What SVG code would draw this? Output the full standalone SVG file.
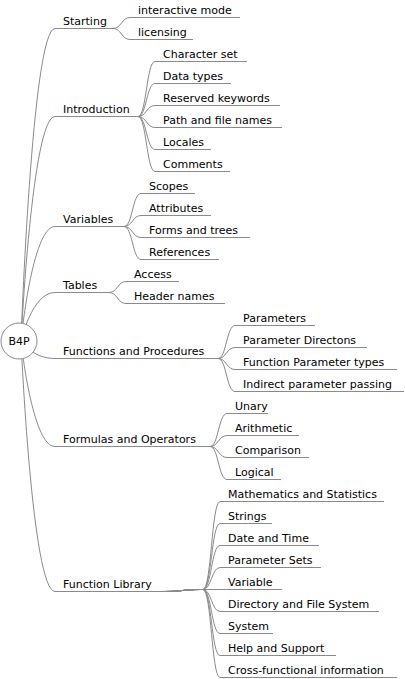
<svg xmlns="http://www.w3.org/2000/svg" width="405" height="679" viewBox="0 0 405 679">
<style>
.t{font-family:"DejaVu Sans","Liberation Sans",sans-serif;font-size:11px;fill:#000}
.ln{stroke:#8a8a8a;stroke-width:1;fill:none}
.root{fill:#fff;stroke:#8a8a8a;stroke-width:1}
</style>
<rect width="405" height="679" fill="#fff"/>
<g id="connectors" class="ln">
<path d="M21,341 C21,341 32,28.5 55,28.5"/>
<path d="M21,341 C21,341 32,116.5 55,116.5"/>
<path d="M21,341 C21,341 32,226.5 55,226.5"/>
<path d="M21,341 C21,341 32,292.5 55,292.5"/>
<path d="M21,341 C21,341 32,358.5 55,358.5"/>
<path d="M21,341 C21,341 32,446.5 55,446.5"/>
<path d="M21,341 C21,341 32,591.5 55,591.5"/>
<path d="M113,28.5 C121.5,28.5 121.5,17.5 130,17.5"/>
<path d="M113,28.5 C121.5,28.5 121.5,39.5 130,39.5"/>
<path d="M138,116.5 C146.5,116.5 146.5,61.5 155,61.5"/>
<path d="M138,116.5 C146.5,116.5 146.5,83.5 155,83.5"/>
<path d="M138,116.5 C146.5,116.5 146.5,105.5 155,105.5"/>
<path d="M138,116.5 C146.5,116.5 146.5,127.5 155,127.5"/>
<path d="M138,116.5 C146.5,116.5 146.5,149.5 155,149.5"/>
<path d="M138,116.5 C146.5,116.5 146.5,171.5 155,171.5"/>
<path d="M124,226.5 C132.5,226.5 132.5,193.5 141,193.5"/>
<path d="M124,226.5 C132.5,226.5 132.5,215.5 141,215.5"/>
<path d="M124,226.5 C132.5,226.5 132.5,237.5 141,237.5"/>
<path d="M124,226.5 C132.5,226.5 132.5,259.5 141,259.5"/>
<path d="M109,292.5 C117.5,292.5 117.5,281.5 126,281.5"/>
<path d="M109,292.5 C117.5,292.5 117.5,303.5 126,303.5"/>
<path d="M218,358.5 C226.5,358.5 226.5,325.5 235,325.5"/>
<path d="M218,358.5 C226.5,358.5 226.5,347.5 235,347.5"/>
<path d="M218,358.5 C226.5,358.5 226.5,369.5 235,369.5"/>
<path d="M218,358.5 C226.5,358.5 226.5,391.5 235,391.5"/>
<path d="M210,446.5 C218.5,446.5 218.5,413.5 227,413.5"/>
<path d="M210,446.5 C218.5,446.5 218.5,435.5 227,435.5"/>
<path d="M210,446.5 C218.5,446.5 218.5,457.5 227,457.5"/>
<path d="M210,446.5 C218.5,446.5 218.5,479.5 227,479.5"/>
<path d="M162,591.5 C184,591.5 181,589.5 203,589.5 C211.5,589.5 211.5,501.5 220,501.5"/>
<path d="M162,591.5 C184,591.5 181,589.5 203,589.5 C211.5,589.5 211.5,523.5 220,523.5"/>
<path d="M162,591.5 C184,591.5 181,589.5 203,589.5 C211.5,589.5 211.5,545.5 220,545.5"/>
<path d="M162,591.5 C184,591.5 181,589.5 203,589.5 C211.5,589.5 211.5,567.5 220,567.5"/>
<path d="M162,591.5 C184,591.5 181,589.5 203,589.5 L220,589.5"/>
<path d="M162,591.5 C184,591.5 181,589.5 203,589.5 C211.5,589.5 211.5,611.5 220,611.5"/>
<path d="M162,591.5 C184,591.5 181,589.5 203,589.5 C211.5,589.5 211.5,633.5 220,633.5"/>
<path d="M162,591.5 C184,591.5 181,589.5 203,589.5 C211.5,589.5 211.5,655.5 220,655.5"/>
<path d="M162,591.5 C184,591.5 181,589.5 203,589.5 C211.5,589.5 211.5,677.5 220,677.5"/>
</g>
<g id="root"><circle class="root" cx="19" cy="341" r="18"/><text class="t" x="19" y="345" text-anchor="middle">B4P</text></g>
<g id="starting"><path class="ln" d="M55,28.5 H113"/><text class="t" x="63" y="24.5">Starting</text></g>
<g id="introduction"><path class="ln" d="M55,116.5 H138"/><text class="t" x="63" y="112.5">Introduction</text></g>
<g id="variables"><path class="ln" d="M55,226.5 H124"/><text class="t" x="63" y="222.5">Variables</text></g>
<g id="tables"><path class="ln" d="M55,292.5 H109"/><text class="t" x="63" y="288.5">Tables</text></g>
<g id="functions"><path class="ln" d="M55,358.5 H218"/><text class="t" x="63" y="354.5">Functions and Procedures</text></g>
<g id="formulas"><path class="ln" d="M55,446.5 H210"/><text class="t" x="63" y="442.5">Formulas and Operators</text></g>
<g id="library"><path class="ln" d="M55,591.5 H162"/><text class="t" x="63" y="587.5">Function Library</text></g>
<g id="interactive"><path class="ln" d="M130,17.5 H240"/><text class="t" x="138" y="13.5">interactive mode</text></g>
<g id="licensing"><path class="ln" d="M130,39.5 H193"/><text class="t" x="138" y="35.5">licensing</text></g>
<g id="charset"><path class="ln" d="M155,61.5 H247"/><text class="t" x="163" y="57.5">Character set</text></g>
<g id="datatypes"><path class="ln" d="M155,83.5 H231"/><text class="t" x="163" y="79.5">Data types</text></g>
<g id="reserved"><path class="ln" d="M155,105.5 H280"/><text class="t" x="163" y="101.5">Reserved keywords</text></g>
<g id="path"><path class="ln" d="M155,127.5 H282"/><text class="t" x="163" y="123.5">Path and file names</text></g>
<g id="locales"><path class="ln" d="M155,149.5 H211"/><text class="t" x="163" y="145.5">Locales</text></g>
<g id="comments"><path class="ln" d="M155,171.5 H230"/><text class="t" x="163" y="167.5">Comments</text></g>
<g id="scopes"><path class="ln" d="M141,193.5 H195"/><text class="t" x="149" y="189.5">Scopes</text></g>
<g id="attributes"><path class="ln" d="M141,215.5 H211"/><text class="t" x="149" y="211.5">Attributes</text></g>
<g id="forms"><path class="ln" d="M141,237.5 H250"/><text class="t" x="149" y="233.5">Forms and trees</text></g>
<g id="references"><path class="ln" d="M141,259.5 H219"/><text class="t" x="149" y="255.5">References</text></g>
<g id="access"><path class="ln" d="M126,281.5 H179"/><text class="t" x="134" y="277.5">Access</text></g>
<g id="header"><path class="ln" d="M126,303.5 H225"/><text class="t" x="134" y="299.5">Header names</text></g>
<g id="parameters"><path class="ln" d="M235,325.5 H315"/><text class="t" x="243" y="321.5">Parameters</text></g>
<g id="directions"><path class="ln" d="M235,347.5 H367"/><text class="t" x="243" y="343.5">Parameter Directons</text></g>
<g id="fptypes"><path class="ln" d="M235,369.5 H397"/><text class="t" x="243" y="365.5">Function Parameter types</text></g>
<g id="indirect"><path class="ln" d="M235,391.5 H404"/><text class="t" x="243" y="387.5">Indirect parameter passing</text></g>
<g id="unary"><path class="ln" d="M227,413.5 H268"/><text class="t" x="235" y="409.5">Unary</text></g>
<g id="arithmetic"><path class="ln" d="M227,435.5 H299"/><text class="t" x="235" y="431.5">Arithmetic</text></g>
<g id="comparison"><path class="ln" d="M227,457.5 H309"/><text class="t" x="235" y="453.5">Comparison</text></g>
<g id="logical"><path class="ln" d="M227,479.5 H281"/><text class="t" x="235" y="475.5">Logical</text></g>
<g id="math"><path class="ln" d="M220,501.5 H384"/><text class="t" x="228" y="497.5">Mathematics and Statistics</text></g>
<g id="strings"><path class="ln" d="M220,523.5 H272"/><text class="t" x="228" y="519.5">Strings</text></g>
<g id="datetime"><path class="ln" d="M220,545.5 H319"/><text class="t" x="228" y="541.5">Date and Time</text></g>
<g id="paramsets"><path class="ln" d="M220,567.5 H321"/><text class="t" x="228" y="563.5">Parameter Sets</text></g>
<g id="variable"><path class="ln" d="M220,589.5 H282"/><text class="t" x="228" y="585.5">Variable</text></g>
<g id="directory"><path class="ln" d="M220,611.5 H379"/><text class="t" x="228" y="607.5">Directory and File System</text></g>
<g id="system"><path class="ln" d="M220,633.5 H273"/><text class="t" x="228" y="629.5">System</text></g>
<g id="help"><path class="ln" d="M220,655.5 H336"/><text class="t" x="228" y="651.5">Help and Support</text></g>
<g id="cross"><path class="ln" d="M220,677.5 H397"/><text class="t" x="228" y="673.5">Cross-functional information</text></g>
</svg>
